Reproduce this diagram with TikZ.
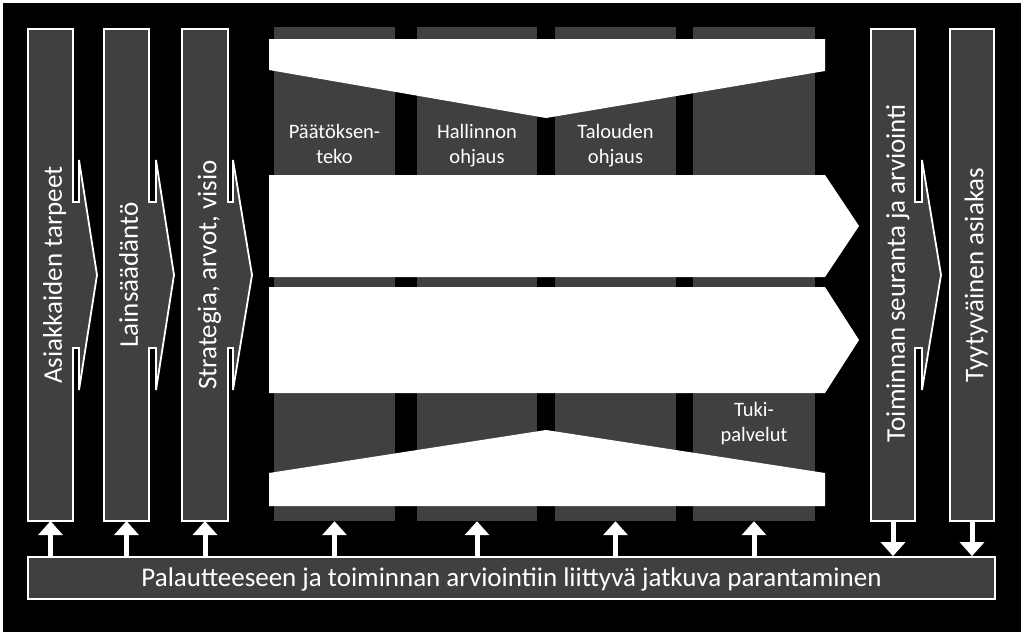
\documentclass[tikz,border=0pt]{standalone}
\usepackage{fontspec}
\setmainfont{Carlito}
\usetikzlibrary{arrows.meta}
\definecolor{boxgray}{RGB}{64,64,64}
\newcommand\chevcol[4]{%
  \draw[colshape] (#1,29) -- (#2,29) -- (#2,202) -- (#3,202) -- (#3,160) -- (#4,275)
    -- (#3,390) -- (#3,348) -- (#2,348) -- (#2,521) -- (#1,521) -- cycle;}
\begin{document}
\begin{tikzpicture}[x=1pt,y=-1pt,
  colshape/.style={fill=boxgray,draw=white,line width=1.8pt,line join=miter},
  midcol/.style={fill=boxgray,draw=none,inner sep=0pt,minimum width=#1,minimum height=494pt},
  whiteshape/.style={fill=white,draw=none},
  vtext/.style={rotate=90,text=white,font=\fontsize{27}{32}\selectfont,
    inner sep=0pt,text height=17.5pt,text depth=0pt},
  lbl/.style={text=white,align=center,font=\fontsize{20.5}{25}\selectfont,inner sep=0pt},
  uparr/.style={draw=white,line width=5pt,-{Triangle[width=24pt,length=14pt]}},
  bartext/.style={text=white,font=\fontsize{27}{32}\selectfont,text height=17.5pt,text depth=0pt}
]
\useasboundingbox (0,0) rectangle (1024,635);
\fill[white] (0,0) rectangle (1024,635);
\fill[black] (3,3) rectangle (1021,632);

% middle gray columns
\node[midcol=121pt] (gA) at (334.5,274) {};
\node[midcol=120pt] (gB) at (477,274) {};
\node[midcol=121pt] (gC) at (615.5,274) {};
\node[midcol=122pt] (gD) at (754,274) {};

% white process shapes
\fill[whiteshape] (269,39) -- (825,39) -- (825,71) -- (546,118) -- (269,70) -- cycle;
\fill[whiteshape] (269,175) -- (825,175) -- (859,226) -- (825,277) -- (269,277) -- cycle;
\fill[whiteshape] (269,287) -- (825,287) -- (859,340) -- (825,393) -- (269,393) -- cycle;
\fill[whiteshape] (269,473) -- (546,430) -- (825,473) -- (825,506) -- (269,506) -- cycle;

% labels
\node[lbl] (lA) at (334.5,145.5) {P\"a\"at\"oksen-\strut\\teko\strut};
\node[lbl] (lB) at (477,145.5) {Hallinnon\strut\\ohjaus\strut};
\node[lbl] (lC) at (615.5,145.5) {Talouden\strut\\ohjaus\strut};
\node[lbl] (lD) at (754,423.5) {Tuki-\strut\\palvelut\strut};

% outlined columns
\chevcol{28}{73}{79}{97}
\chevcol{104}{149}{156}{174}
\chevcol{182}{228}{233}{252}
\chevcol{871}{915}{922}{941}
\node[colshape,inner sep=0pt,minimum width=44pt,minimum height=492pt] (c5) at (972,275) {};

\coordinate (c1b) at (50.5,521);
\coordinate (c2b) at (126.5,521);
\coordinate (c3b) at (205,521);
\coordinate (c4b) at (893,521);

\node[vtext] (t1) at (53.2,275) {Asiakkaiden tarpeet};
\node[vtext] (t2) at (129.2,275) {Lains\"a\"ad\"ant\"o};
\node[vtext] (t3) at (207.7,275) {Strategia, arvot, visio};
\node[vtext] (t4) at (896.2,273) {Toiminnan seuranta ja arviointi};
\node[vtext] (t5) at (974.7,275) {Tyytyv\"ainen asiakas};

% bottom bar
\node[colshape,inner sep=0pt,minimum width=967pt,minimum height=42pt] (bar) at (511.5,578) {};
\node[bartext] (bt) at (511.5,577.5) {Palautteeseen ja toiminnan arviointiin liittyv\"a jatkuva parantaminen};

% arrows
\draw[uparr] (bar.north -| c1b) -- (c1b);
\draw[uparr] (bar.north -| c2b) -- (c2b);
\draw[uparr] (bar.north -| c3b) -- (c3b);
\draw[uparr] (bar.north -| gA.south) -- (gA.south);
\draw[uparr] (bar.north -| gB.south) -- (gB.south);
\draw[uparr] (bar.north -| gC.south) -- (gC.south);
\draw[uparr] (bar.north -| gD.south) -- (gD.south);
\draw[uparr] (c4b) -- (bar.north -| c4b);
\draw[uparr] (c5.south) -- (bar.north -| c5.south);
\end{tikzpicture}
\end{document}
